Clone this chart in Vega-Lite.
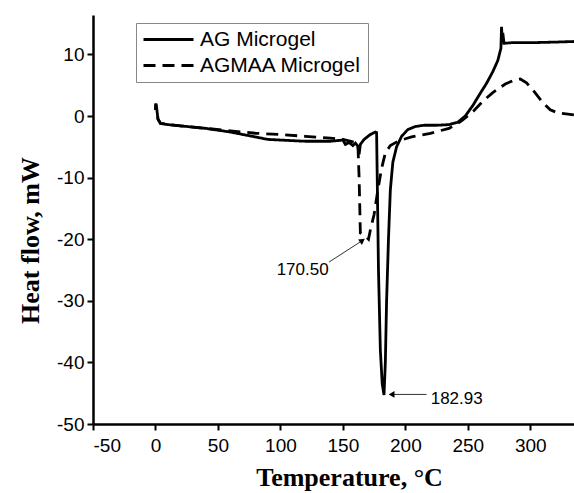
{
  "$schema": "https://vega.github.io/schema/vega-lite/v6.json",
  "width": 481,
  "height": 409,
  "autosize": {"type": "none"},
  "padding": {"left": 93, "top": 15, "right": 0, "bottom": 69},
  "background": "white",
  "config": {
    "view": {"stroke": null},
    "axis": {
      "grid": false,
      "domainColor": "black",
      "domainWidth": 2.5,
      "tickColor": "black",
      "tickWidth": 2,
      "tickSize": 6,
      "labelFont": "Liberation Sans",
      "labelFontSize": 19,
      "labelColor": "black",
      "labelPadding": 3,
      "labelExpr": "replace(datum.label, '\u2212', '-')",
      "titleFont": "Liberation Serif",
      "titleFontWeight": "bold",
      "titleFontSize": 26,
      "titleColor": "black"
    }
  },
  "datasets": {
    "dsc": [
      {"series": "AG Microgel", "T": 0, "H": 1.0},
      {"series": "AG Microgel", "T": 0.3, "H": 2.0},
      {"series": "AG Microgel", "T": 1, "H": 1.2},
      {"series": "AG Microgel", "T": 2, "H": -0.5},
      {"series": "AG Microgel", "T": 4, "H": -1.2},
      {"series": "AG Microgel", "T": 10, "H": -1.4},
      {"series": "AG Microgel", "T": 20, "H": -1.6},
      {"series": "AG Microgel", "T": 40, "H": -2.0},
      {"series": "AG Microgel", "T": 60, "H": -2.6},
      {"series": "AG Microgel", "T": 80, "H": -3.4},
      {"series": "AG Microgel", "T": 90, "H": -3.8},
      {"series": "AG Microgel", "T": 100, "H": -3.9},
      {"series": "AG Microgel", "T": 120, "H": -4.1},
      {"series": "AG Microgel", "T": 140, "H": -4.1},
      {"series": "AG Microgel", "T": 150, "H": -3.9},
      {"series": "AG Microgel", "T": 152, "H": -4.6},
      {"series": "AG Microgel", "T": 155, "H": -4.3},
      {"series": "AG Microgel", "T": 158, "H": -4.8},
      {"series": "AG Microgel", "T": 160, "H": -4.4},
      {"series": "AG Microgel", "T": 162, "H": -4.9},
      {"series": "AG Microgel", "T": 163, "H": -6.2},
      {"series": "AG Microgel", "T": 164, "H": -4.6},
      {"series": "AG Microgel", "T": 167, "H": -3.8},
      {"series": "AG Microgel", "T": 172, "H": -3.0},
      {"series": "AG Microgel", "T": 176, "H": -2.6},
      {"series": "AG Microgel", "T": 177, "H": -2.7},
      {"series": "AG Microgel", "T": 177.5, "H": -10},
      {"series": "AG Microgel", "T": 178.5, "H": -25},
      {"series": "AG Microgel", "T": 180, "H": -38},
      {"series": "AG Microgel", "T": 181.5, "H": -43.5},
      {"series": "AG Microgel", "T": 182.93, "H": -45.3},
      {"series": "AG Microgel", "T": 184, "H": -40},
      {"series": "AG Microgel", "T": 185, "H": -30},
      {"series": "AG Microgel", "T": 186.5, "H": -20},
      {"series": "AG Microgel", "T": 188, "H": -12},
      {"series": "AG Microgel", "T": 190, "H": -7.5},
      {"series": "AG Microgel", "T": 193, "H": -5},
      {"series": "AG Microgel", "T": 197, "H": -3.3},
      {"series": "AG Microgel", "T": 202, "H": -2.2},
      {"series": "AG Microgel", "T": 208, "H": -1.7},
      {"series": "AG Microgel", "T": 215, "H": -1.5},
      {"series": "AG Microgel", "T": 225, "H": -1.5},
      {"series": "AG Microgel", "T": 235, "H": -1.4},
      {"series": "AG Microgel", "T": 242, "H": -1.0},
      {"series": "AG Microgel", "T": 248, "H": 0},
      {"series": "AG Microgel", "T": 254, "H": 1.7},
      {"series": "AG Microgel", "T": 260, "H": 3.7},
      {"series": "AG Microgel", "T": 265, "H": 5.3},
      {"series": "AG Microgel", "T": 270, "H": 7.2},
      {"series": "AG Microgel", "T": 274, "H": 9.0},
      {"series": "AG Microgel", "T": 276.5, "H": 11},
      {"series": "AG Microgel", "T": 277, "H": 14.5},
      {"series": "AG Microgel", "T": 277.5, "H": 12.3},
      {"series": "AG Microgel", "T": 278, "H": 13.5},
      {"series": "AG Microgel", "T": 279, "H": 11.8},
      {"series": "AG Microgel", "T": 285, "H": 11.9},
      {"series": "AG Microgel", "T": 300, "H": 11.9},
      {"series": "AG Microgel", "T": 320, "H": 12.0},
      {"series": "AG Microgel", "T": 335, "H": 12.1},

      {"series": "AGMAA Microgel", "T": 0, "H": 1.0},
      {"series": "AGMAA Microgel", "T": 0.3, "H": 2.0},
      {"series": "AGMAA Microgel", "T": 1, "H": 1.2},
      {"series": "AGMAA Microgel", "T": 2, "H": -0.5},
      {"series": "AGMAA Microgel", "T": 4, "H": -1.2},
      {"series": "AGMAA Microgel", "T": 20, "H": -1.6},
      {"series": "AGMAA Microgel", "T": 40, "H": -2.0},
      {"series": "AGMAA Microgel", "T": 60, "H": -2.4},
      {"series": "AGMAA Microgel", "T": 80, "H": -2.8},
      {"series": "AGMAA Microgel", "T": 100, "H": -3.0},
      {"series": "AGMAA Microgel", "T": 120, "H": -3.3},
      {"series": "AGMAA Microgel", "T": 140, "H": -3.6},
      {"series": "AGMAA Microgel", "T": 150, "H": -3.8},
      {"series": "AGMAA Microgel", "T": 158, "H": -4.2},
      {"series": "AGMAA Microgel", "T": 162, "H": -4.5},
      {"series": "AGMAA Microgel", "T": 163, "H": -10},
      {"series": "AGMAA Microgel", "T": 164, "H": -19},
      {"series": "AGMAA Microgel", "T": 168, "H": -19.5},
      {"series": "AGMAA Microgel", "T": 170.5, "H": -20},
      {"series": "AGMAA Microgel", "T": 172, "H": -18.5},
      {"series": "AGMAA Microgel", "T": 175, "H": -16},
      {"series": "AGMAA Microgel", "T": 178, "H": -12},
      {"series": "AGMAA Microgel", "T": 181, "H": -8.5},
      {"series": "AGMAA Microgel", "T": 184, "H": -6.0},
      {"series": "AGMAA Microgel", "T": 188, "H": -4.8},
      {"series": "AGMAA Microgel", "T": 195, "H": -4.0},
      {"series": "AGMAA Microgel", "T": 205, "H": -3.4},
      {"series": "AGMAA Microgel", "T": 220, "H": -2.8},
      {"series": "AGMAA Microgel", "T": 235, "H": -2.0},
      {"series": "AGMAA Microgel", "T": 245, "H": -0.8},
      {"series": "AGMAA Microgel", "T": 255, "H": 0.9},
      {"series": "AGMAA Microgel", "T": 262, "H": 2.4},
      {"series": "AGMAA Microgel", "T": 270, "H": 3.8},
      {"series": "AGMAA Microgel", "T": 280, "H": 5.2},
      {"series": "AGMAA Microgel", "T": 288, "H": 5.9},
      {"series": "AGMAA Microgel", "T": 292, "H": 6.0},
      {"series": "AGMAA Microgel", "T": 297, "H": 5.4},
      {"series": "AGMAA Microgel", "T": 303, "H": 4.0},
      {"series": "AGMAA Microgel", "T": 310, "H": 2.2},
      {"series": "AGMAA Microgel", "T": 316, "H": 1.0},
      {"series": "AGMAA Microgel", "T": 322, "H": 0.5},
      {"series": "AGMAA Microgel", "T": 335, "H": 0.2}
    ],
    "peaks": [
      {"label": "170.50", "T": 97, "H": -25.0, "T1": 139, "H1": -23.7, "T2": 165, "H2": -20.3},
      {"label": "182.93", "T": 220.3, "H": -46.0, "T1": 217, "H1": -45.2, "T2": 189, "H2": -45.2}
    ]
  },
  "layer": [
    {
      "data": {"name": "dsc"},
      "mark": {"type": "line", "color": "black", "strokeWidth": 2.8, "clip": true},
      "encoding": {
        "x": {
          "field": "T", "type": "quantitative",
          "scale": {"domain": [-50, 335], "nice": false, "zero": false},
          "axis": {"values": [-50, 0, 50, 100, 150, 200, 250, 300], "title": "Temperature, °C", "labelPadding": 6, "titlePadding": 9, "titleX": 256}
        },
        "y": {
          "field": "H", "type": "quantitative",
          "scale": {"domain": [-50, 16.4], "nice": false, "zero": false},
          "axis": {"values": [-50, -40, -30, -20, -10, 0, 10], "title": "Heat flow, mW", "titlePadding": 13, "titleY": 225}
        },
        "strokeDash": {
          "field": "series", "type": "nominal",
          "scale": {"domain": ["AG Microgel", "AGMAA Microgel"], "range": [[1, 0], [12, 7]]},
          "legend": {
            "title": null,
            "orient": "none",
            "legendX": 43,
            "legendY": 8,
            "strokeColor": "#888888",
            "padding": 6,
            "clipHeight": 21,
            "symbolType": "stroke",
            "symbolSize": 2500,
            "symbolStrokeWidth": 3,
            "symbolStrokeColor": "black",
            "labelFont": "Liberation Sans",
            "labelFontSize": 21,
            "labelLimit": 400,
            "labelColor": "black",
            "labelOffset": 5,
            "rowPadding": 4
          }
        }
      }
    },
    {
      "data": {"name": "peaks"},
      "mark": {"type": "rule", "color": "#333333", "strokeWidth": 1},
      "encoding": {
        "x": {"field": "T1", "type": "quantitative"},
        "y": {"field": "H1", "type": "quantitative"},
        "x2": {"field": "T2"},
        "y2": {"field": "H2"}
      }
    },
    {
      "data": {"name": "peaks"},
      "transform": [{"filter": "datum.label == '170.50'"}],
      "mark": {"type": "point", "shape": "triangle", "angle": 55, "filled": true, "color": "black", "size": 45, "opacity": 1},
      "encoding": {
        "x": {"field": "T2", "type": "quantitative"},
        "y": {"field": "H2", "type": "quantitative"}
      }
    },
    {
      "data": {"name": "peaks"},
      "transform": [{"filter": "datum.label == '182.93'"}],
      "mark": {"type": "point", "shape": "triangle-left", "filled": true, "color": "black", "size": 45, "opacity": 1},
      "encoding": {
        "x": {"field": "T2", "type": "quantitative"},
        "y": {"field": "H2", "type": "quantitative"}
      }
    },
    {
      "data": {"name": "peaks"},
      "mark": {"type": "text", "align": "left", "baseline": "middle", "font": "Liberation Sans", "fontSize": 17, "color": "black"},
      "encoding": {
        "x": {"field": "T", "type": "quantitative"},
        "y": {"field": "H", "type": "quantitative"},
        "text": {"field": "label"}
      }
    }
  ]
}
